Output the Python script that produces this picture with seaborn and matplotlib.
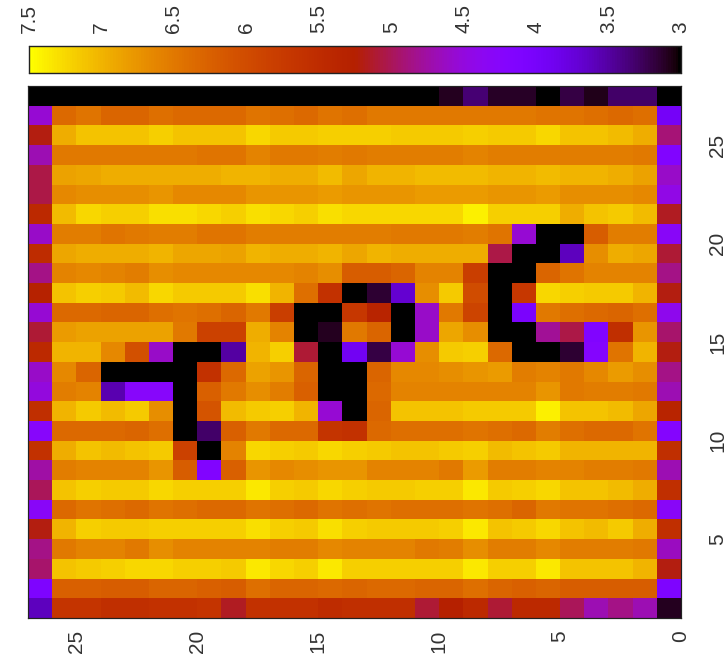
import numpy as np
import matplotlib
matplotlib.use("Agg")
import matplotlib.pyplot as plt
from matplotlib.colors import LinearSegmentedColormap
import seaborn as sns

# rows from the top of the picture (y 28 down to y 1), columns left to right (x 27 down to 0)
row_27 = [3.0, 3.0, 3.0, 3.0, 3.0, 3.0, 3.0, 3.0, 3.0, 3.0, 3.0, 3.0, 3.0, 3.0, 3.0, 3.0, 3.0, 3.1, 3.35, 3.12, 3.12, 3.0, 3.2, 3.08, 3.3, 3.3, 3.0]
row_26 = [4.55, 6.35, 6.45, 6.3, 6.3, 6.4, 6.35, 6.35, 6.35, 6.45, 6.4, 6.35, 6.45, 6.4, 6.5, 6.5, 6.5, 6.5, 6.5, 6.5, 6.5, 6.45, 6.45, 6.4, 6.35, 6.4, 3.95]
row_25 = [5.2, 6.95, 7.1, 7.1, 7.1, 7.2, 7.1, 7.1, 7.1, 7.25, 7.15, 7.15, 7.2, 7.2, 7.2, 7.15, 7.15, 7.15, 7.2, 7.15, 7.15, 7.25, 7.1, 7.1, 7.05, 6.95, 4.9]
row_24 = [4.7, 6.5, 6.5, 6.5, 6.5, 6.5, 6.5, 6.45, 6.45, 6.6, 6.5, 6.5, 6.55, 6.5, 6.55, 6.55, 6.55, 6.55, 6.6, 6.55, 6.55, 6.55, 6.55, 6.55, 6.55, 6.5, 4.15]
row_23 = [5.05, 6.85, 6.9, 6.95, 6.95, 6.95, 6.95, 6.95, 7.0, 7.0, 6.95, 6.95, 7.05, 6.9, 7.0, 7.0, 7.05, 7.05, 7.05, 7.0, 7.0, 7.05, 7.0, 7.0, 6.95, 6.85, 4.6]
row_22 = [5.05, 6.65, 6.7, 6.7, 6.7, 6.75, 6.65, 6.65, 6.65, 6.75, 6.75, 6.75, 6.8, 6.75, 6.75, 6.75, 6.8, 6.8, 6.8, 6.75, 6.75, 6.8, 6.7, 6.7, 6.7, 6.65, 4.45]
row_21 = [5.45, 7.05, 7.25, 7.2, 7.2, 7.3, 7.3, 7.25, 7.2, 7.3, 7.25, 7.2, 7.3, 7.25, 7.25, 7.25, 7.25, 7.25, 7.4, 7.2, 7.2, 7.2, 6.95, 7.1, 7.15, 7.05, 5.15]
row_20 = [4.6, 6.55, 6.55, 6.45, 6.5, 6.55, 6.55, 6.45, 6.45, 6.55, 6.55, 6.55, 6.55, 6.55, 6.55, 6.5, 6.5, 6.5, 6.55, 6.45, 4.55, 3.0, 3.0, 6.2, 6.55, 6.55, 4.3]
row_19 = [5.5, 6.9, 6.95, 6.95, 6.95, 7.0, 6.9, 6.9, 6.85, 7.0, 6.95, 6.95, 7.0, 6.9, 7.0, 6.95, 6.95, 6.95, 6.95, 5.05, 3.0, 3.0, 3.6, 6.7, 6.95, 6.9, 5.1]
row_18 = [4.85, 6.6, 6.65, 6.6, 6.55, 6.7, 6.65, 6.65, 6.65, 6.65, 6.65, 6.6, 6.7, 6.2, 6.2, 6.3, 6.6, 6.6, 5.8, 3.0, 3.0, 6.3, 6.45, 6.6, 6.6, 6.6, 4.85]
row_17 = [5.3, 7.1, 7.2, 7.15, 7.05, 7.25, 7.15, 7.15, 7.15, 7.3, 7.0, 6.4, 5.6, 3.0, 3.15, 3.7, 6.7, 7.15, 6.0, 3.0, 5.7, 7.25, 7.2, 7.15, 7.15, 7.0, 5.2]
row_16 = [4.55, 6.35, 6.35, 6.3, 6.3, 6.4, 6.45, 6.4, 6.3, 6.5, 5.8, 3.0, 3.0, 5.7, 5.35, 3.0, 4.6, 6.5, 5.9, 3.0, 4.05, 6.5, 6.4, 6.35, 6.3, 6.4, 4.4]
row_15 = [5.1, 6.8, 6.85, 6.85, 6.85, 6.85, 6.5, 5.85, 5.85, 6.95, 6.6, 3.0, 3.1, 6.5, 6.3, 3.0, 4.6, 6.9, 6.7, 3.0, 3.0, 4.8, 5.05, 4.15, 5.55, 6.75, 4.95]
row_14 = [5.45, 7.0, 7.0, 6.65, 6.05, 4.6, 3.0, 3.0, 3.5, 7.0, 7.2, 5.1, 3.0, 3.9, 3.2, 4.55, 6.7, 7.15, 7.2, 6.35, 3.0, 3.0, 3.15, 4.2, 6.45, 7.0, 5.2]
row_13 = [4.6, 6.65, 6.3, 3.0, 3.0, 3.0, 3.0, 5.6, 6.35, 6.85, 6.75, 6.3, 3.0, 3.0, 6.3, 6.65, 6.65, 6.7, 6.75, 6.8, 6.55, 6.6, 6.5, 6.65, 6.8, 6.7, 4.85]
row_12 = [4.5, 6.55, 6.6, 3.55, 4.25, 4.25, 3.0, 6.25, 6.5, 6.7, 6.55, 6.25, 3.0, 3.0, 6.35, 6.6, 6.6, 6.6, 6.6, 6.6, 6.6, 6.75, 6.5, 6.55, 6.55, 6.5, 4.7]
row_11 = [5.55, 7.0, 7.15, 7.05, 7.15, 6.7, 3.0, 6.1, 7.05, 7.15, 7.2, 7.0, 4.55, 3.0, 6.3, 7.1, 7.1, 7.1, 7.15, 7.15, 7.15, 7.4, 7.1, 7.1, 7.05, 6.9, 5.35]
row_10 = [4.25, 6.35, 6.35, 6.35, 6.3, 6.4, 3.0, 3.3, 6.25, 6.5, 6.35, 6.35, 5.65, 5.6, 6.35, 6.4, 6.4, 6.4, 6.45, 6.4, 6.35, 6.55, 6.4, 6.35, 6.35, 6.45, 4.2]
row_09 = [5.6, 6.95, 7.1, 7.05, 7.1, 7.15, 5.85, 3.0, 6.6, 7.25, 7.2, 7.15, 7.25, 7.2, 7.15, 7.1, 7.1, 7.15, 7.2, 7.05, 7.1, 7.15, 7.0, 7.0, 7.0, 7.0, 5.55]
row_08 = [4.75, 6.55, 6.6, 6.6, 6.6, 6.75, 6.2, 4.15, 6.25, 6.75, 6.65, 6.7, 6.75, 6.75, 6.6, 6.6, 6.6, 6.5, 6.8, 6.55, 6.55, 6.6, 6.6, 6.55, 6.55, 6.5, 4.7]
row_07 = [5.0, 7.1, 7.2, 7.15, 7.15, 7.25, 7.2, 7.2, 7.2, 7.35, 7.2, 7.15, 7.25, 7.2, 7.15, 7.15, 7.2, 7.2, 7.35, 7.15, 7.2, 7.25, 7.1, 7.1, 7.05, 6.95, 5.55]
row_06 = [4.3, 6.35, 6.45, 6.4, 6.35, 6.45, 6.4, 6.35, 6.35, 6.45, 6.4, 6.35, 6.45, 6.4, 6.45, 6.4, 6.4, 6.4, 6.45, 6.4, 6.3, 6.5, 6.45, 6.45, 6.4, 6.35, 4.3]
row_05 = [5.2, 7.0, 7.2, 7.15, 7.15, 7.2, 7.2, 7.2, 7.2, 7.3, 7.2, 7.15, 7.3, 7.2, 7.15, 7.15, 7.15, 7.2, 7.35, 7.1, 7.15, 7.25, 7.1, 7.05, 7.15, 6.95, 5.55]
row_04 = [4.85, 6.5, 6.6, 6.6, 6.5, 6.7, 6.6, 6.6, 6.6, 6.6, 6.55, 6.55, 6.65, 6.6, 6.6, 6.6, 6.5, 6.55, 6.7, 6.55, 6.55, 6.65, 6.55, 6.55, 6.55, 6.5, 4.65]
row_03 = [4.95, 7.1, 7.15, 7.2, 7.25, 7.25, 7.2, 7.2, 7.15, 7.35, 7.25, 7.2, 7.35, 7.2, 7.2, 7.2, 7.2, 7.2, 7.35, 7.2, 7.2, 7.35, 7.1, 7.1, 7.1, 7.0, 5.2]
row_02 = [4.1, 6.25, 6.25, 6.2, 6.2, 6.3, 6.3, 6.25, 6.2, 6.4, 6.3, 6.3, 6.35, 6.3, 6.35, 6.35, 6.3, 6.3, 6.4, 6.3, 6.25, 6.3, 6.2, 6.2, 6.2, 6.2, 4.1]
row_01 = [3.6, 5.65, 5.65, 5.55, 5.55, 5.6, 5.6, 5.65, 5.15, 5.6, 5.6, 5.6, 5.5, 5.55, 5.55, 5.55, 5.1, 5.25, 5.45, 5.1, 5.45, 5.45, 5.0, 4.7, 4.85, 4.7, 3.1]

x_labels = [25, 20, 15, 10, 5, 0]
y_labels = [25, 20, 15, 10, 5]
cb_labels = ["3", "3.5", "4", "4.5", "5", "5.5", "6", "6.5", "7", "7.5"]

grid = np.array([row_27, row_26, row_25, row_24, row_23, row_22, row_21, row_20, row_19,
                 row_18, row_17, row_16, row_15, row_14, row_13, row_12, row_11, row_10,
                 row_09, row_08, row_07, row_06, row_05, row_04, row_03, row_02, row_01])
x_max = 27
y_max = 28

# gnuplot default palette (rgbformulae 7,5,15)
t = np.linspace(0, 1, 256)
pm3d = LinearSegmentedColormap.from_list(
    "pm3d", np.c_[np.sqrt(t), t ** 3, np.clip(np.sin(2 * np.pi * t), 0, 1)])

sns.set_theme(style="white")
plt.rcParams["font.family"] = ["Liberation Sans Narrow", "Liberation Sans", "DejaVu Sans"]

W, H = 728, 654
fig = plt.figure(figsize=(W / 100, H / 100), dpi=100)
ax = fig.add_axes([28 / W, 1 - 618 / H, 653 / W, 532 / H])
cax = fig.add_axes([29 / W, 1 - 73 / H, 652 / W, 27 / H])

sns.heatmap(grid, ax=ax, cmap=pm3d, vmin=3, vmax=7.5, cbar_ax=cax,
            cbar_kws={"orientation": "horizontal"}, rasterized=True)

px = 0.72
dark = "#222222"
text_col = "#333333"
fs = 15

# main axes
ax.set_xticks([x_max - v for v in x_labels])
ax.set_xticklabels(x_labels, rotation=90, fontsize=fs, color=text_col, va="top", ha="center")
ax.set_yticks([y_max - v for v in y_labels])
ax.set_yticklabels(y_labels, rotation=90, fontsize=fs, color=text_col, va="center", ha="left")
ax.yaxis.tick_right()
ax.tick_params(axis="x", which="major", direction="in", length=10 * px, width=1 * px,
               color="#111111", top=True, bottom=True, pad=12 * px)
ax.tick_params(axis="y", which="major", direction="in", length=16 * px, width=1 * px,
               color="#111111", left=True, right=True, pad=27 * px)
for s in ax.spines.values():
    s.set_visible(True)
    s.set_color(dark)
    s.set_linewidth(1.2 * px)

# colour box along the top, high values on the left
cax.invert_xaxis()
cb_vals = [float(v) for v in cb_labels]
cax.set_xticks(cb_vals)
cax.set_xticklabels(cb_labels, rotation=90, fontsize=fs, color=text_col, va="bottom", ha="center")
cax.xaxis.tick_top()
cax.tick_params(axis="x", direction="in", length=8 * px, width=1 * px, color="#111111",
                top=True, bottom=True, labeltop=True, labelbottom=False, pad=13 * px)
for s in cax.spines.values():
    s.set_visible(True)
    s.set_color(dark)
    s.set_linewidth(1.2 * px)

fig.savefig("out.png", dpi=100)
plt.close(fig)
